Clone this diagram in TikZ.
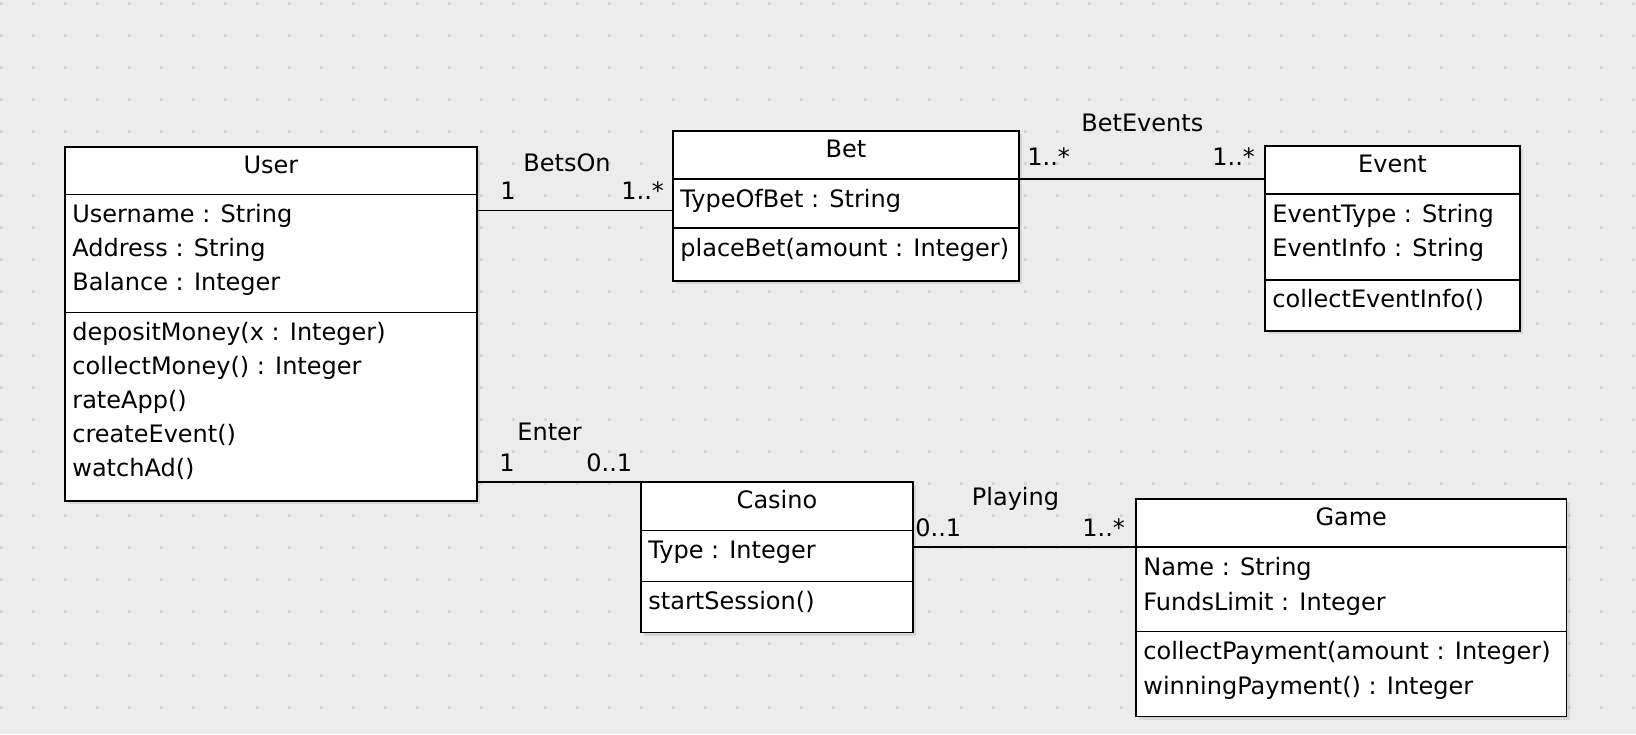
\documentclass[tikz,border=0pt]{standalone}
\usepackage{fontspec}
\setmainfont{DejaVu Sans}
\usetikzlibrary{shadows}
\definecolor{canvas}{RGB}{236,236,236}
\definecolor{gridDot}{RGB}{214,214,214}

\tikzset{
  compartment/.style={draw, line width=0.75pt, fill=white, inner sep=0pt, outer sep=0pt,
    anchor=north west, drop shadow={shadow xshift=1.5pt, shadow yshift=-1.5pt, opacity=0.2}},
  classname/.style={anchor=base, yshift=-13.25pt, inner sep=0pt},
  member/.style={anchor=base west, xshift=3.5pt, inner sep=0pt},
  assoc/.style={line width=0.6pt},
  assoclabel/.style={anchor=base west, inner sep=0pt}
}

\begin{document}
\begin{tikzpicture}[x=0.5pt, y=-0.5pt, font=\fontsize{12pt}{17pt}\selectfont]
    % canvas with dotted grid
    \useasboundingbox (0,0) rectangle (1636,734);
    \fill[canvas] (0,0) rectangle (1636,734);
    \foreach \gx in {0,...,51}
        \foreach \gy in {0,...,22}
            \fill[gridDot] (\gx*32,\gy*32+2) rectangle ++(3,3);

    % User
    \node[compartment, minimum width=206pt, minimum height=23.75pt] (user) at (65,147) {};
    \node[compartment, minimum width=206pt, minimum height=59pt] (user-attr) at (user.south west) {};
    \node[compartment, minimum width=206pt, minimum height=94.25pt] (user-ops) at (user-attr.south west) {};
    \node[classname] (user-title) at (user.north) {User};
    \foreach \txt [count=\i] in {Username : String, Address : String, Balance : Integer}
        \node[member, yshift={-14pt-17pt*(\i-1)}] (user-a\i) at (user-attr.north west) {\txt};
    \foreach \txt [count=\i] in {depositMoney(x : Integer), collectMoney() : Integer, rateApp(), createEvent(), watchAd()}
        \node[member, yshift={-14pt-17pt*(\i-1)}] (user-o\i) at (user-ops.north west) {\txt};

    % Bet
    \node[compartment, minimum width=173pt, minimum height=24pt] (bet) at (673,131) {};
    \node[compartment, minimum width=173pt, minimum height=24.5pt] (bet-attr) at (bet.south west) {};
    \node[compartment, minimum width=173pt, minimum height=26.5pt] (bet-ops) at (bet-attr.south west) {};
    \node[classname] (bet-title) at (bet.north) {Bet};
    \node[member, yshift=-14pt] (bet-a1) at (bet-attr.north west) {TypeOfBet : String};
    \node[member, yshift=-14.25pt] (bet-o1) at (bet-ops.north west) {placeBet(amount : Integer)};

    % Event
    \node[compartment, minimum width=127.5pt, minimum height=24pt] (event) at (1265,146) {};
    \node[compartment, minimum width=127.5pt, minimum height=43pt] (event-attr) at (event.south west) {};
    \node[compartment, minimum width=127.5pt, minimum height=25.5pt] (event-ops) at (event-attr.south west) {};
    \node[classname] (event-title) at (event.north) {Event};
    \foreach \txt [count=\i] in {EventType : String, EventInfo : String}
        \node[member, yshift={-14.25pt-17pt*(\i-1)}] (event-a\i) at (event-attr.north west) {\txt};
    \node[member, yshift=-13.75pt] (event-o1) at (event-ops.north west) {collectEventInfo()};

    % Casino
    \node[compartment, minimum width=136pt, minimum height=24.25pt] (casino) at (641,482) {};
    \node[compartment, minimum width=136pt, minimum height=25.5pt] (casino-attr) at (casino.south west) {};
    \node[compartment, minimum width=136pt, minimum height=25.5pt] (casino-ops) at (casino-attr.south west) {};
    \node[classname] (casino-title) at (casino.north) {Casino};
    \node[member, yshift=-14pt] (casino-a1) at (casino-attr.north west) {Type : Integer};
    \node[member, yshift=-13.75pt] (casino-o1) at (casino-ops.north west) {startSession()};

    % Game
    \node[compartment, minimum width=215.25pt, minimum height=24pt] (game) at (1136,499) {};
    \node[compartment, minimum width=215.25pt, minimum height=42.25pt] (game-attr) at (game.south west) {};
    \node[compartment, minimum width=215.25pt, minimum height=42.5pt] (game-ops) at (game-attr.south west) {};
    \node[classname] (game-title) at (game.north) {Game};
    \foreach \txt [count=\i] in {Name : String, FundsLimit : Integer}
        \node[member, yshift={-14pt-17.5pt*(\i-1)}] (game-a\i) at (game-attr.north west) {\txt};
    \foreach \txt [count=\i] in {collectPayment(amount : Integer), winningPayment() : Integer}
        \node[member, yshift={-13.75pt-17.5pt*(\i-1)}] (game-o\i) at (game-ops.north west) {\txt};

    % associations
    \draw[assoc] (user-attr.north east) ++(0,16) coordinate (betson-a) -- (betson-a -| bet-attr.west);
    \draw[assoc] (bet-attr.north east) -- (bet-attr.north east -| event.west);
    \draw[assoc] (casino.north west -| user-ops.east) -- (casino.north west);
    \draw[assoc] (casino-attr.east |- game-attr.north west) -- (game-attr.north west);

    % association names and multiplicities
    \node[assoclabel] (betson-name) at (523,171.7) {BetsOn};
    \node[assoclabel] (betson-m1) at (500,199.3) {1};
    \node[assoclabel] (betson-m2) at (621,199.3) {1..*};
    \node[assoclabel] (betevents-name) at (1081,131.7) {BetEvents};
    \node[assoclabel] (betevents-m1) at (1027,165) {1..*};
    \node[assoclabel] (betevents-m2) at (1212,165) {1..*};
    \node[assoclabel] (enter-name) at (517,440) {Enter};
    \node[assoclabel] (enter-m1) at (499,471.7) {1};
    \node[assoclabel] (enter-m2) at (586,471.7) {0..1};
    \node[assoclabel] (playing-name) at (971.5,505) {Playing};
    \node[assoclabel] (playing-m1) at (915,536) {0..1};
    \node[assoclabel] (playing-m2) at (1082,536) {1..*};
\end{tikzpicture}
\end{document}
